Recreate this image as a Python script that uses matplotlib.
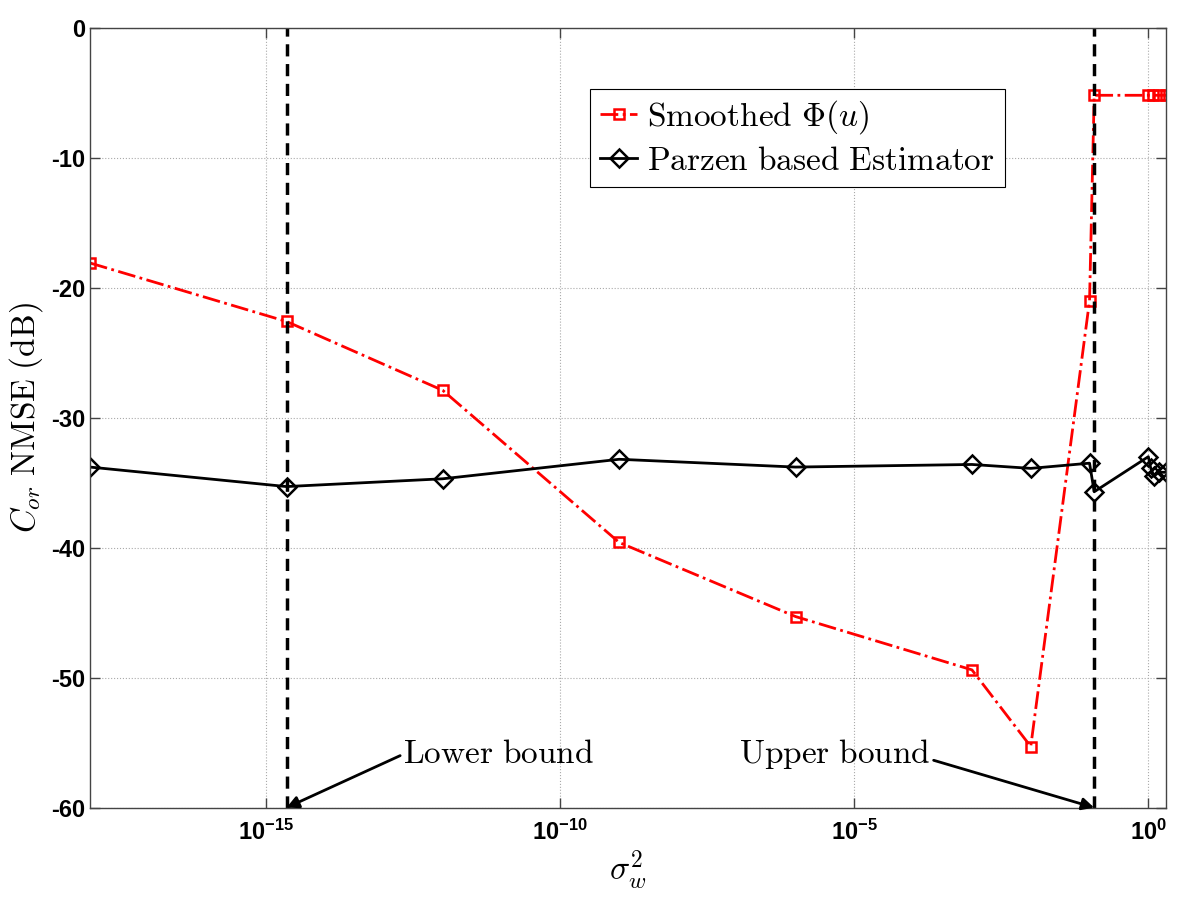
# NMSE of C_or versus noise variance, smoothed Phi(u) vs Parzen estimator

import matplotlib
matplotlib.use('Agg')
from matplotlib import pyplot as plt
from matplotlib.font_manager import FontProperties
import numpy as np

plt.rcParams['mathtext.fontset'] = 'custom'
plt.rcParams['mathtext.rm'] = 'Liberation Sans:bold'
plt.rcParams['mathtext.it'] = 'Liberation Sans:bold'
plt.rcParams['mathtext.bf'] = 'Liberation Sans:bold'

# data
sigma_smooth = [1e-18, 2.2e-15, 1e-12, 1e-9, 1e-6, 1e-3, 1e-2, 0.1, 0.12, 1, 1.2, 1.5, 2]
nmse_smooth = [-18.1, -22.6, -27.9, -39.6, -45.3, -49.4, -55.3, -21.0, -5.2, -5.2, -5.2, -5.2, -5.2]

sigma_parzen = [1e-18, 2.2e-15, 1e-12, 1e-9, 1e-6, 1e-3, 1e-2, 0.1, 0.12, 1, 1.1, 1.25, 1.5, 2]
nmse_parzen = [-33.8, -35.3, -34.7, -33.2, -33.8, -33.6, -33.9, -33.5, -35.7, -33.0, -33.9, -34.5, -34.2, -34.2]

lower_bound = 2.2e-15
upper_bound = 0.12
xticks = [1e-15, 1e-10, 1e-5, 1]
xtick_labels = [r'$10^{-15}$', r'$10^{-10}$', r'$10^{-5}$', r'$10^{0}$']
yticks = [-60, -50, -40, -30, -20, -10, 0]

cm_big = FontProperties(family='serif', size=24, math_fontfamily='cm')
cm_label = FontProperties(family='serif', size=24, math_fontfamily='cm')

fig = plt.figure(figsize=(12, 8.99), dpi=100)
ax = fig.add_axes([0.075, 0.1016, 0.8967, 0.8676])

ax.plot(sigma_smooth, nmse_smooth, '-.', color='red', lw=2, marker='s', ms=7,
        mfc='none', mec='red', mew=1.8, label=r'$\mathrm{Smoothed}\ \Phi(u)$')
ax.plot(sigma_parzen, nmse_parzen, '-', color='black', lw=2, marker='D', ms=9,
        mfc='none', mec='black', mew=1.8, label=r'$\mathrm{Parzen\ based\ Estimator}$')

ax.axvline(lower_bound, color='black', ls='--', lw=2.5, dashes=(3.5, 2.2))
ax.axvline(upper_bound, color='black', ls='--', lw=2.5, dashes=(3.5, 2.2))

ax.set_xscale('log')
ax.set_xlim(1e-18, 2)
ax.set_ylim(-60, 0)
ax.set_xticks(xticks)
ax.set_xticklabels(xtick_labels, fontsize=17)
ax.xaxis.set_minor_locator(matplotlib.ticker.NullLocator())
ax.set_yticks(yticks)
ax.set_yticklabels([str(v) for v in yticks], fontweight='bold', family='Liberation Sans',
                   fontsize=17)
ax.tick_params(direction='in', length=7, width=1, top=True, right=True, color='#444444')
ax.tick_params(axis='x', pad=9)
for s in ax.spines.values():
    s.set_color('#444444')
    s.set_linewidth(1)
ax.grid(True, ls=':', color='#aaaaaa', lw=0.8)

ax.set_xlabel(r'$\sigma_w^2$', fontproperties=cm_label, labelpad=2)
ax.set_ylabel(r'$C_{or}\ \mathrm{NMSE\ (dB)}$', fontproperties=cm_label, labelpad=4)

leg = ax.legend(loc='upper left', bbox_to_anchor=(0.465, 0.922), prop=cm_big,
                fancybox=False, framealpha=1, edgecolor='black',
                handlelength=1.1, handletextpad=0.3, borderpad=0.3, labelspacing=0.25,
                borderaxespad=0)
leg.get_frame().set_linewidth(0.8)

ax.annotate(r'$\mathrm{Lower\ bound}$', xy=(lower_bound, -60), xytext=(2.1e-13, -55.9),
            fontproperties=cm_big, ha='left', va='center',
            arrowprops=dict(arrowstyle='-|>', color='black', lw=2, mutation_scale=18,
                            shrinkA=0, shrinkB=0, relpos=(0, 0.5)))
ax.annotate(r'$\mathrm{Upper\ bound}$', xy=(upper_bound, -60), xytext=(2e-4, -55.9),
            fontproperties=cm_big, ha='right', va='center',
            arrowprops=dict(arrowstyle='-|>', color='black', lw=2, mutation_scale=18,
                            shrinkA=0, shrinkB=0, relpos=(1, 0.35)))

plt.savefig('out.png', dpi=100)
plt.close()
